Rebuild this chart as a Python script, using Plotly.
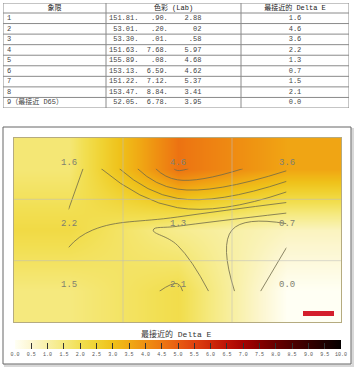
import plotly.graph_objects as go

W, H = 355, 373

# ---------------- data ----------------
quadrants = ["1", "2", "3", "4", "5", "6", "7", "8", "9（最接近 D65）"]
lab_L = ["151.81.", "53.01.", "53.30.", "151.63.", "155.89.", "153.13.", "151.22.", "153.47.", "52.05."]
lab_a = [".90.", ".20.", ".01.", "7.68.", ".08.", "6.59.", "7.12.", "8.84.", "6.78."]
lab_b = ["2.88", "02", ".58", "5.97", "4.68", "4.62", "5.37", "3.41", "3.95"]
delta_e = [1.6, 4.6, 3.6, 2.2, 1.3, 0.7, 1.5, 2.1, 0.0]
header = ["象限", "色彩 (Lab)", "最接近的 Delta E"]
cb_title = "最接近的 Delta E"
cb_ticks = [i * 0.5 for i in range(21)]

# grid 3x3 (row-major, top row first)
grid = [delta_e[0:3], delta_e[3:6], delta_e[6:9]]
gx = [0, 1, 2]
gy = [0, 1, 2]

colorscale = [
    [0.00, "#fffff4"], [0.05, "#fcf6d0"], [0.10, "#f8f0a6"], [0.15, "#f5e97e"],
    [0.20, "#f2df52"], [0.25, "#f0d232"], [0.30, "#efc11a"], [0.35, "#f0aa14"],
    [0.40, "#ef9012"], [0.45, "#ed7812"], [0.50, "#e85c12"], [0.55, "#df4210"],
    [0.60, "#cf2a0a"], [0.65, "#bd1206"], [0.70, "#a60202"], [0.75, "#860000"],
    [0.80, "#680000"], [0.85, "#4e0000"], [0.90, "#360000"], [0.95, "#1e0000"],
    [1.00, "#050000"],
]

NB = "\u00a0"
lab_text = [(l.rjust(7) + a.rjust(7) + b.rjust(8)).replace(" ", NB)
            for l, a, b in zip(lab_L, lab_a, lab_b)]
de_text = ["%.1f" % v for v in delta_e]

mono = "Liberation Mono, Noto Sans CJK SC, monospace"

# ---------------- table geometry (pixel units inside the table box) ----------------
TW, TH = 346, 105          # table box size
HDR = 10                   # header row height
ROW = (TH - HDR) / len(quadrants)
col_edges = [0, 103, 238, TW]
row_mid = [HDR + (i + 0.5) * ROW for i in range(len(quadrants))]

fig = go.Figure()

# header
fig.add_trace(go.Scatter(
    x=[(col_edges[i] + col_edges[i + 1]) / 2 for i in range(3)], y=[HDR / 2 + 0.5] * 3,
    text=header, mode="text", textposition="middle center", hoverinfo="skip",
    textfont=dict(family=mono, size=7, color="#222"), xaxis="x2", yaxis="y2"))
# column 1
fig.add_trace(go.Scatter(
    x=[4] * len(quadrants), y=row_mid, text=quadrants, mode="text",
    textposition="middle right", hoverinfo="skip",
    textfont=dict(family=mono, size=7, color="#444"), xaxis="x2", yaxis="y2"))
# column 2
fig.add_trace(go.Scatter(
    x=[col_edges[1] + 3] * len(quadrants), y=row_mid, text=lab_text, mode="text",
    textposition="middle right", hoverinfo="skip",
    textfont=dict(family=mono, size=7, color="#444"), xaxis="x2", yaxis="y2"))
# column 3
fig.add_trace(go.Scatter(
    x=[(col_edges[2] + col_edges[3]) / 2] * len(quadrants), y=row_mid, text=de_text,
    mode="text", textposition="middle center", hoverinfo="skip",
    textfont=dict(family=mono, size=7, color="#444"), xaxis="x2", yaxis="y2"))

# ---------------- contour map ----------------
fig.add_trace(go.Heatmap(
    x=gx, y=gy, z=grid, zmin=0, zmax=10, zsmooth="best",
    colorscale=colorscale, hoverinfo="skip",
    colorbar=dict(orientation="h", x=178 / W, xanchor="center",
                  len=326, lenmode="pixels", y=1 - 340 / H, yanchor="top",
                  thickness=9, xpad=0, ypad=0, outlinewidth=0,
                  tickvals=cb_ticks, ticktext=["%.1f" % t for t in cb_ticks],
                  ticks="inside", ticklen=6, tickcolor="#333", tickwidth=1,
                  tickfont=dict(family=mono, size=5, color="#555")),
))

fig.add_trace(go.Contour(
    x=gx, y=gy, z=grid, showscale=False, hoverinfo="skip",
    contours=dict(coloring="none", start=0.5, end=10, size=0.5),
    line=dict(color="#6e6a4a", width=0.8, smoothing=1.3),
))

fig.update_layout(
    width=W, height=H, margin=dict(l=0, r=0, t=0, b=0),
    paper_bgcolor="white", plot_bgcolor="white", showlegend=False,
    xaxis=dict(domain=[14 / W, 341 / W], range=[-0.5, 2.5], showticklabels=False,
               ticks="", showgrid=False, zeroline=False, showline=True, mirror=True,
               linecolor="#b5ab80", linewidth=1),
    yaxis=dict(domain=[1 - 322 / H, 1 - 138 / H], range=[2.5, -0.5], showticklabels=False,
               ticks="", showgrid=False, zeroline=False, showline=True, mirror=True,
               linecolor="#b5ab80", linewidth=1),
    xaxis2=dict(domain=[3 / W, 349 / W], range=[0, TW], visible=False, fixedrange=True),
    yaxis2=dict(domain=[1 - 108 / H, 1 - 3 / H], range=[TH, 0], visible=False, fixedrange=True),
)

# value labels
for r in range(3):
    for c in range(3):
        fig.add_annotation(x=gx[c], y=gy[r], text="%.1f" % grid[r][c], showarrow=False,
                           yshift=6, font=dict(family=mono, size=9, color="#808070"))

shapes = []
# table shadow + lines
shapes.append(dict(type="rect", xref="x2", yref="y2", x0=2, x1=TW + 2, y0=2, y1=TH + 2,
                   line=dict(color="#d0d0d0", width=2), fillcolor="#e4e4e4", layer="below"))
shapes.append(dict(type="rect", xref="x2", yref="y2", x0=0, x1=TW, y0=0, y1=TH,
                   line=dict(color="#8a8a8a", width=1), fillcolor="white", layer="below"))
for i in range(len(quadrants)):
    yy = HDR + i * ROW
    shapes.append(dict(type="line", xref="x2", yref="y2", x0=0, x1=TW, y0=yy, y1=yy,
                       line=dict(color="#8a8a8a", width=1)))
for xx in col_edges[1:3]:
    shapes.append(dict(type="line", xref="x2", yref="y2", x0=xx, x1=xx, y0=0, y1=TH,
                       line=dict(color="#8a8a8a", width=1)))

# cell boundary grid lines in the map
for v in [0.5, 1.5]:
    shapes.append(dict(type="line", xref="x", yref="y", x0=v, x1=v, y0=-0.5, y1=2.5,
                       line=dict(color="rgba(190,190,190,0.55)", width=1), layer="above"))
    shapes.append(dict(type="line", xref="x", yref="y", x0=-0.5, x1=2.5, y0=v, y1=v,
                       line=dict(color="rgba(190,190,190,0.55)", width=1), layer="above"))
# frame and shadow
shapes.append(dict(type="rect", xref="paper", yref="paper", x0=5 / W, x1=353 / W,
                   y0=1 - 366 / H, y1=1 - 129 / H, line=dict(color="#d8d8d8", width=2),
                   fillcolor="#e8e8e8", layer="below"))
shapes.append(dict(type="rect", xref="paper", yref="paper", x0=3 / W, x1=351 / W,
                   y0=1 - 364 / H, y1=1 - 127 / H, line=dict(color="#666", width=1),
                   fillcolor="white", layer="below"))
# red marker
shapes.append(dict(type="rect", xref="paper", yref="paper", x0=303 / W, x1=334 / W,
                   y0=1 - 316 / H, y1=1 - 311 / H, line=dict(width=0),
                   fillcolor="#d41f2c", layer="above"))
fig.update_layout(shapes=shapes)

fig.add_annotation(xref="paper", yref="paper", x=176 / W, y=1 - 334 / H, yanchor="middle",
                   text=cb_title, showarrow=False,
                   font=dict(family=mono, size=8, color="#333"))

fig.write_html("out.html")
